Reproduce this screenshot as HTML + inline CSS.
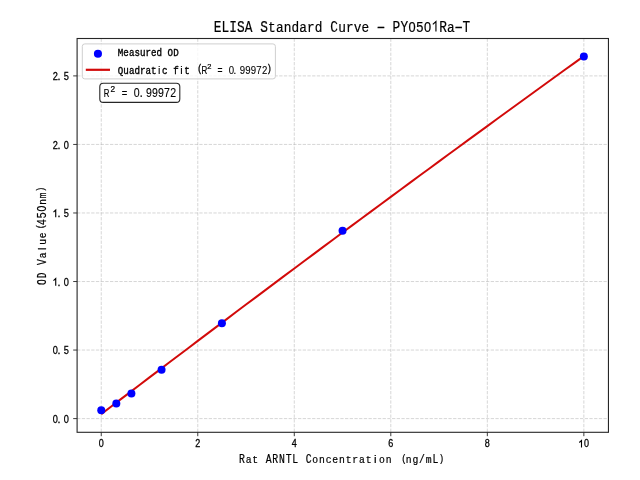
<!DOCTYPE html>
<html><head><meta charset="utf-8"><style>
html,body{margin:0;padding:0;background:#fff;width:640px;height:480px;overflow:hidden}
svg{display:block;filter:blur(0.35px)}
text{fill:#000;stroke:#000;stroke-width:0.32px;text-anchor:middle}
.m{font-family:"Liberation Mono",monospace}
.s{font-family:"Liberation Sans",sans-serif}
.thin text{stroke-width:0.2px}
.mid text{stroke-width:0.22px}
.tk text{stroke-width:0.28px}
.lg .m{stroke-width:0.38px}
.s{stroke-width:0.1px}
.sl{font-family:"Liberation Sans",sans-serif;text-anchor:start;stroke-width:0.22px}
</style></head><body>
<svg width="640" height="480" viewBox="0 0 640 480">
<rect width="640" height="480" fill="#fff"/>
<g stroke="#b0b0b0" stroke-opacity="0.5" stroke-width="1.0" stroke-dasharray="3.3 1.4" fill="none">
<line x1="101.25" y1="38.5" x2="101.25" y2="432.3"/><line x1="197.77" y1="38.5" x2="197.77" y2="432.3"/><line x1="294.29" y1="38.5" x2="294.29" y2="432.3"/><line x1="390.81" y1="38.5" x2="390.81" y2="432.3"/><line x1="487.33" y1="38.5" x2="487.33" y2="432.3"/><line x1="583.85" y1="38.5" x2="583.85" y2="432.3"/><line x1="77.1" y1="418.60" x2="608.45" y2="418.60"/><line x1="77.1" y1="350.06" x2="608.45" y2="350.06"/><line x1="77.1" y1="281.52" x2="608.45" y2="281.52"/><line x1="77.1" y1="212.98" x2="608.45" y2="212.98"/><line x1="77.1" y1="144.44" x2="608.45" y2="144.44"/><line x1="77.1" y1="75.90" x2="608.45" y2="75.90"/>
</g>
<polyline points="101.25,414.14 110.90,406.78 120.55,399.42 130.21,392.08 139.86,384.74 149.51,377.41 159.16,370.09 168.81,362.78 178.47,355.47 188.12,348.18 197.77,340.89 207.42,333.61 217.07,326.34 226.73,319.08 236.38,311.82 246.03,304.57 255.68,297.34 265.33,290.10 274.99,282.88 284.64,275.67 294.29,268.46 303.94,261.27 313.59,254.08 323.25,246.90 332.90,239.72 342.55,232.56 352.20,225.40 361.85,218.26 371.51,211.12 381.16,203.98 390.81,196.86 400.46,189.75 410.11,182.64 419.77,175.54 429.42,168.45 439.07,161.37 448.72,154.30 458.37,147.23 468.03,140.17 477.68,133.12 487.33,126.08 496.98,119.05 506.63,112.03 516.29,105.01 525.94,98.00 535.59,91.00 545.24,84.01 554.89,77.03 564.55,70.06 574.20,63.09 583.85,56.13" fill="none" stroke="#d20a0a" stroke-width="2.0" stroke-linejoin="round"/>
<g fill="#0000ff"><circle cx="101.25" cy="410.20" r="4"/><circle cx="116.33" cy="403.60" r="4"/><circle cx="131.41" cy="393.40" r="4"/><circle cx="161.57" cy="369.80" r="4"/><circle cx="221.90" cy="323.30" r="4"/><circle cx="342.55" cy="230.80" r="4"/><circle cx="583.85" cy="56.50" r="4"/></g>
<rect x="77.1" y="38.5" width="531.35" height="393.80" fill="none" stroke="#262626" stroke-width="1.1"/>
<g stroke="#262626" stroke-width="0.9"><line x1="101.25" y1="432.3" x2="101.25" y2="436.2"/><line x1="197.77" y1="432.3" x2="197.77" y2="436.2"/><line x1="294.29" y1="432.3" x2="294.29" y2="436.2"/><line x1="390.81" y1="432.3" x2="390.81" y2="436.2"/><line x1="487.33" y1="432.3" x2="487.33" y2="436.2"/><line x1="583.85" y1="432.3" x2="583.85" y2="436.2"/><line x1="73.19999999999999" y1="418.60" x2="77.1" y2="418.60"/><line x1="73.19999999999999" y1="350.06" x2="77.1" y2="350.06"/><line x1="73.19999999999999" y1="281.52" x2="77.1" y2="281.52"/><line x1="73.19999999999999" y1="212.98" x2="77.1" y2="212.98"/><line x1="73.19999999999999" y1="144.44" x2="77.1" y2="144.44"/><line x1="73.19999999999999" y1="75.90" x2="77.1" y2="75.90"/></g>
<g class="tk"><text transform="translate(101.25,447.45) scale(0.86,1.0)" class="s" font-size="10.50">0</text><text transform="translate(197.77,447.45) scale(0.86,1.0)" class="s" font-size="10.50">2</text><text transform="translate(294.29,447.45) scale(0.86,1.0)" class="s" font-size="10.50">4</text><text transform="translate(390.81,447.45) scale(0.86,1.0)" class="s" font-size="10.50">6</text><text transform="translate(487.33,447.45) scale(0.86,1.0)" class="s" font-size="10.50">8</text><path d="M579.30,442.47L581.50,440.47V447.45" fill="none" stroke="#000" stroke-width="1.10" stroke-linejoin="miter"/><text transform="translate(586.61,447.45) scale(0.86,1.0)" class="s" font-size="10.50">0</text><text transform="translate(55.30,422.80) scale(0.86,1.0)" class="s" font-size="10.70">0</text><text x="59.03" y="422.80" class="s" font-size="10.70">.</text><text transform="translate(66.36,422.80) scale(0.86,1.0)" class="s" font-size="10.70">0</text><text transform="translate(55.30,354.26) scale(0.86,1.0)" class="s" font-size="10.70">0</text><text x="59.03" y="354.26" class="s" font-size="10.70">.</text><text transform="translate(66.36,354.26) scale(0.86,1.0)" class="s" font-size="10.70">5</text><path d="M53.48,280.63L55.73,278.60V285.72" fill="none" stroke="#000" stroke-width="1.12" stroke-linejoin="miter"/><text x="59.03" y="285.72" class="s" font-size="10.70">.</text><text transform="translate(66.36,285.72) scale(0.86,1.0)" class="s" font-size="10.70">0</text><path d="M53.48,212.09L55.73,210.06V217.18" fill="none" stroke="#000" stroke-width="1.12" stroke-linejoin="miter"/><text x="59.03" y="217.18" class="s" font-size="10.70">.</text><text transform="translate(66.36,217.18) scale(0.86,1.0)" class="s" font-size="10.70">5</text><text transform="translate(55.30,148.64) scale(0.86,1.0)" class="s" font-size="10.70">2</text><text x="59.03" y="148.64" class="s" font-size="10.70">.</text><text transform="translate(66.36,148.64) scale(0.86,1.0)" class="s" font-size="10.70">0</text><text transform="translate(55.30,80.10) scale(0.86,1.0)" class="s" font-size="10.70">2</text><text x="59.03" y="80.10" class="s" font-size="10.70">.</text><text transform="translate(66.36,80.10) scale(0.86,1.0)" class="s" font-size="10.70">5</text></g>
<g class="thin"><text transform="translate(217.50,31.60) scale(0.8,1.0)" class="m" font-size="16.00">E</text><text transform="translate(225.28,31.60) scale(0.8,1.0)" class="m" font-size="16.00">L</text><text transform="translate(233.06,31.60) scale(0.8,1.0)" class="m" font-size="16.00">I</text><text transform="translate(240.84,31.60) scale(0.8,1.0)" class="m" font-size="16.00">S</text><text transform="translate(248.62,31.60) scale(0.8,1.0)" class="m" font-size="16.00">A</text><text transform="translate(264.18,31.60) scale(0.8,1.0)" class="m" font-size="16.00">S</text><text transform="translate(271.96,31.60) scale(0.8,0.87)" class="m" font-size="16.00">t</text><text transform="translate(279.74,31.60) scale(0.8,0.87)" class="m" font-size="16.00">a</text><text transform="translate(287.52,31.60) scale(0.8,0.87)" class="m" font-size="16.00">n</text><text transform="translate(295.30,31.60) scale(0.8,0.87)" class="m" font-size="16.00">d</text><text transform="translate(303.08,31.60) scale(0.8,0.87)" class="m" font-size="16.00">a</text><text transform="translate(310.86,31.60) scale(0.8,0.87)" class="m" font-size="16.00">r</text><text transform="translate(318.64,31.60) scale(0.8,0.87)" class="m" font-size="16.00">d</text><text transform="translate(334.20,31.60) scale(0.8,1.0)" class="m" font-size="16.00">C</text><text transform="translate(341.98,31.60) scale(0.8,0.87)" class="m" font-size="16.00">u</text><text transform="translate(349.76,31.60) scale(0.8,0.87)" class="m" font-size="16.00">r</text><text transform="translate(357.54,31.60) scale(0.8,0.87)" class="m" font-size="16.00">v</text><text transform="translate(365.32,31.60) scale(0.8,0.87)" class="m" font-size="16.00">e</text><text transform="translate(380.88,31.60) scale(1.45,1.0)" class="m" font-size="16.00">-</text><text transform="translate(396.44,31.60) scale(0.8,1.0)" class="m" font-size="16.00">P</text><text transform="translate(404.22,31.60) scale(0.8,1.0)" class="m" font-size="16.00">Y</text><text transform="translate(412.00,31.60) scale(0.86,1.0)" class="s" font-size="14.90">0</text><text transform="translate(419.78,31.60) scale(0.86,1.0)" class="s" font-size="14.90">5</text><text transform="translate(427.56,31.60) scale(0.86,1.0)" class="s" font-size="14.90">0</text><path d="M432.81,24.38L435.94,21.55V31.60" fill="none" stroke="#000" stroke-width="1.15" stroke-linejoin="miter"/><text transform="translate(443.12,31.60) scale(0.8,1.0)" class="m" font-size="16.00">R</text><text transform="translate(450.90,31.60) scale(0.8,0.87)" class="m" font-size="16.00">a</text><text transform="translate(458.68,31.60) scale(1.45,1.0)" class="m" font-size="16.00">-</text><text transform="translate(466.46,31.60) scale(0.8,1.0)" class="m" font-size="16.00">T</text></g><g class="mid"><text transform="translate(241.90,463.40) scale(0.8,1.0)" class="m" font-size="12.20">R</text><text transform="translate(248.57,463.40) scale(0.8,0.87)" class="m" font-size="12.20">a</text><text transform="translate(255.24,463.40) scale(0.8,0.87)" class="m" font-size="12.20">t</text><text transform="translate(268.58,463.40) scale(0.8,1.0)" class="m" font-size="12.20">A</text><text transform="translate(275.25,463.40) scale(0.8,1.0)" class="m" font-size="12.20">R</text><text transform="translate(281.92,463.40) scale(0.8,1.0)" class="m" font-size="12.20">N</text><text transform="translate(288.59,463.40) scale(0.8,1.0)" class="m" font-size="12.20">T</text><text transform="translate(295.26,463.40) scale(0.8,1.0)" class="m" font-size="12.20">L</text><text transform="translate(308.60,463.40) scale(0.8,1.0)" class="m" font-size="12.20">C</text><text transform="translate(315.27,463.40) scale(0.8,0.87)" class="m" font-size="12.20">o</text><text transform="translate(321.94,463.40) scale(0.8,0.87)" class="m" font-size="12.20">n</text><text transform="translate(328.61,463.40) scale(0.8,0.87)" class="m" font-size="12.20">c</text><text transform="translate(335.28,463.40) scale(0.8,0.87)" class="m" font-size="12.20">e</text><text transform="translate(341.95,463.40) scale(0.8,0.87)" class="m" font-size="12.20">n</text><text transform="translate(348.62,463.40) scale(0.8,0.87)" class="m" font-size="12.20">t</text><text transform="translate(355.29,463.40) scale(0.8,0.87)" class="m" font-size="12.20">r</text><text transform="translate(361.96,463.40) scale(0.8,0.87)" class="m" font-size="12.20">a</text><text transform="translate(368.63,463.40) scale(0.8,0.87)" class="m" font-size="12.20">t</text><text transform="translate(375.30,463.40) scale(1.0,0.93)" class="s" font-size="11.59">i</text><text transform="translate(381.97,463.40) scale(0.8,0.87)" class="m" font-size="12.20">o</text><text transform="translate(388.64,463.40) scale(0.8,0.87)" class="m" font-size="12.20">n</text><text transform="translate(403.98,461.57) scale(0.8,1.0)" class="m" font-size="11.22">(</text><text transform="translate(408.65,463.40) scale(0.8,0.87)" class="m" font-size="12.20">n</text><text transform="translate(415.32,463.40) scale(0.8,0.87)" class="m" font-size="12.20">g</text><text transform="translate(421.99,463.40) scale(0.8,1.0)" class="m" font-size="12.20">/</text><text transform="translate(428.66,463.40) scale(0.8,0.87)" class="m" font-size="12.20">m</text><text transform="translate(435.33,463.40) scale(0.8,1.0)" class="m" font-size="12.20">L</text><text transform="translate(441.33,461.57) scale(0.8,1.0)" class="m" font-size="11.22">)</text></g>
<g transform="rotate(-90)" class="mid"><text transform="translate(-282.00,46.20) scale(0.8,1.0)" class="m" font-size="12.00">O</text><text transform="translate(-275.33,46.20) scale(0.8,1.0)" class="m" font-size="12.00">D</text><text transform="translate(-261.99,46.20) scale(0.8,1.0)" class="m" font-size="12.00">V</text><text transform="translate(-255.32,46.20) scale(0.8,0.87)" class="m" font-size="12.00">a</text><text transform="translate(-248.65,46.20) scale(1.0,0.93)" class="s" font-size="11.40">l</text><text transform="translate(-241.98,46.20) scale(0.8,0.87)" class="m" font-size="12.00">u</text><text transform="translate(-235.31,46.20) scale(0.8,0.87)" class="m" font-size="12.00">e</text><text transform="translate(-226.64,44.40) scale(0.8,1.0)" class="m" font-size="11.04">(</text><text transform="translate(-221.97,46.20) scale(0.86,1.0)" class="s" font-size="12.20">4</text><text transform="translate(-215.30,46.20) scale(0.86,1.0)" class="s" font-size="12.20">5</text><text transform="translate(-208.63,46.20) scale(0.86,1.0)" class="s" font-size="12.20">0</text><text transform="translate(-201.96,46.20) scale(0.8,0.87)" class="m" font-size="12.00">n</text><text transform="translate(-195.29,46.20) scale(0.8,0.87)" class="m" font-size="12.00">m</text><text transform="translate(-189.29,44.40) scale(0.8,1.0)" class="m" font-size="11.04">)</text></g>
<rect x="82.3" y="43.9" width="193.1" height="35" rx="2.5" fill="#fff" fill-opacity="0.8" stroke="#cfcfcf" stroke-width="1"/>
<circle cx="97.95" cy="53.8" r="4.05" fill="#0000ff"/>
<line x1="85.8" y1="69.8" x2="110" y2="69.8" stroke="#d20a0a" stroke-width="2.2"/>
<g class="lg"><text transform="translate(120.60,55.90) scale(0.8,1.0)" class="m" font-size="11.50">M</text><text transform="translate(126.13,55.90) scale(0.8,0.87)" class="m" font-size="11.50">e</text><text transform="translate(131.66,55.90) scale(0.8,0.87)" class="m" font-size="11.50">a</text><text transform="translate(137.19,55.90) scale(0.8,0.87)" class="m" font-size="11.50">s</text><text transform="translate(142.72,55.90) scale(0.8,0.87)" class="m" font-size="11.50">u</text><text transform="translate(148.25,55.90) scale(0.8,0.87)" class="m" font-size="11.50">r</text><text transform="translate(153.78,55.90) scale(0.8,0.87)" class="m" font-size="11.50">e</text><text transform="translate(159.31,55.90) scale(0.8,0.87)" class="m" font-size="11.50">d</text><text transform="translate(170.37,55.90) scale(0.8,1.0)" class="m" font-size="11.50">O</text><text transform="translate(175.90,55.90) scale(0.8,1.0)" class="m" font-size="11.50">D</text><text transform="translate(120.60,73.60) scale(0.8,1.0)" class="m" font-size="11.50">Q</text><text transform="translate(126.13,73.60) scale(0.8,0.87)" class="m" font-size="11.50">u</text><text transform="translate(131.66,73.60) scale(0.8,0.87)" class="m" font-size="11.50">a</text><text transform="translate(137.19,73.60) scale(0.8,0.87)" class="m" font-size="11.50">d</text><text transform="translate(142.72,73.60) scale(0.8,0.87)" class="m" font-size="11.50">r</text><text transform="translate(148.25,73.60) scale(0.8,0.87)" class="m" font-size="11.50">a</text><text transform="translate(153.78,73.60) scale(0.8,0.87)" class="m" font-size="11.50">t</text><text transform="translate(159.31,73.60) scale(1.0,0.93)" class="s" font-size="10.92">i</text><text transform="translate(164.84,73.60) scale(0.8,0.87)" class="m" font-size="11.50">c</text><text transform="translate(175.90,73.60) scale(0.8,0.87)" class="m" font-size="11.50">f</text><text transform="translate(181.43,73.60) scale(1.0,0.93)" class="s" font-size="10.92">i</text><text transform="translate(186.96,73.60) scale(0.8,0.87)" class="m" font-size="11.50">t</text><text transform="translate(199.68,71.88) scale(0.8,1.0)" class="m" font-size="10.58">(</text><text transform="translate(219.93,73.82) scale(0.85,1.0)" class="s" font-size="10.08">=</text><text transform="translate(231.39,73.60) scale(0.86,1.0)" class="s" font-size="11.20">0</text><text x="234.72" y="73.60" class="s" font-size="11.20">.</text><text transform="translate(242.45,73.60) scale(0.86,1.0)" class="s" font-size="11.20">9</text><text transform="translate(247.98,73.60) scale(0.86,1.0)" class="s" font-size="11.20">9</text><text transform="translate(253.51,73.60) scale(0.86,1.0)" class="s" font-size="11.20">9</text><text transform="translate(259.04,73.60) scale(0.86,1.0)" class="s" font-size="11.20">7</text><text transform="translate(264.57,73.60) scale(0.86,1.0)" class="s" font-size="11.20">2</text><text transform="translate(269.15,71.92) scale(0.8,1.0)" class="m" font-size="10.30">)</text><text transform="translate(201.6,73.7) scale(0.72,1)" class="sl" font-size="11.1">R</text><text x="207.30" y="69.00" class="sl" font-size="7.50">2</text></g>
<rect x="99.8" y="83.3" width="80" height="19.1" rx="3.5" fill="#fff" stroke="#262626" stroke-width="1.1"/>
<g><text transform="translate(124.57,96.52) scale(0.85,1.0)" class="s" font-size="11.07">=</text><text transform="translate(136.71,97.10) scale(0.86,1.0)" class="s" font-size="12.30">0</text><text x="141.18" y="97.10" class="s" font-size="12.30">.</text><text transform="translate(148.85,97.10) scale(0.86,1.0)" class="s" font-size="12.30">9</text><text transform="translate(154.92,97.10) scale(0.86,1.0)" class="s" font-size="12.30">9</text><text transform="translate(160.99,97.10) scale(0.86,1.0)" class="s" font-size="12.30">9</text><text transform="translate(167.06,97.10) scale(0.86,1.0)" class="s" font-size="12.30">7</text><text transform="translate(173.13,97.10) scale(0.86,1.0)" class="s" font-size="12.30">2</text><text transform="translate(103.7,96.8) scale(0.72,1)" class="sl" font-size="10.8">R</text><text x="110.60" y="92.00" class="sl" font-size="8.30">2</text></g>
</svg>
</body></html>
